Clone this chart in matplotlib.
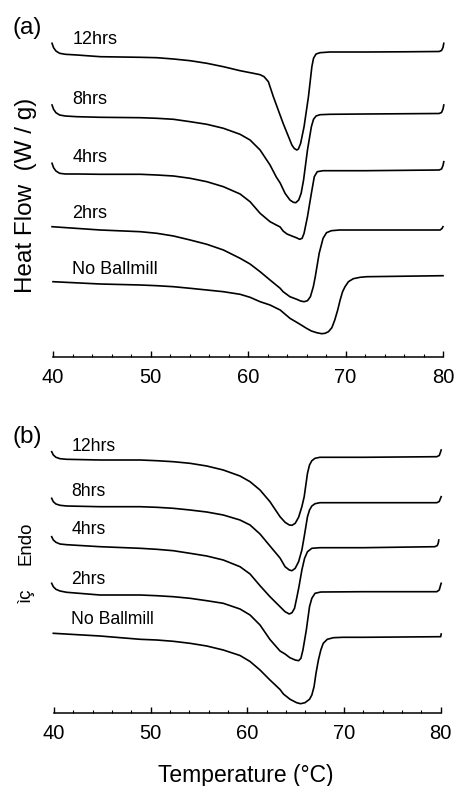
import matplotlib
matplotlib.use("Agg")
from matplotlib import pyplot as plt
from matplotlib.ticker import MultipleLocator

plt.rcParams['font.family'] = ['Liberation Sans', 'DejaVu Sans']

# DSC traces (Temperature in C, heat flow in arbitrary stacked units)
# (a) panel
a_12_t = [39.9, 40.06, 40.3, 40.68, 41.26, 42.46, 44.85, 48.96, 50.65, 52.36, 54.07, 55.78, 57.48, 59.19, 60.55,
          61.24, 61.65, 62.09, 62.6, 63.6, 64.5, 64.73, 65.0, 65.17, 65.4, 65.75, 66.2, 66.55, 66.72, 66.98,
          67.39, 68.4, 72.0, 76.0, 79.6, 79.85, 80.0, 80.08]
a_12_hf = [31.67, 31.23, 30.9, 30.67, 30.57, 30.5, 30.33, 30.27, 30.23, 30.1, 29.93, 29.67, 29.33, 28.93, 28.67,
           28.53, 28.33, 27.83, 26.33, 23.67, 21.5, 21.17, 21.0, 21.1, 21.67, 23.33, 26.33, 29.33, 30.17, 30.6,
           30.73, 30.8, 30.8, 30.82, 30.85, 30.95, 31.25, 31.67]

a_8_t = [39.9, 40.06, 40.3, 40.68, 41.26, 42.46, 44.85, 48.96, 50.65, 52.36, 54.07, 55.78, 57.48, 59.19, 60.21,
         61.24, 62.26, 62.9, 63.3, 63.8, 64.3, 64.65, 64.9, 65.2, 65.45, 65.7, 66.1, 66.5, 66.72, 66.98,
         67.39, 68.4, 72.0, 79.6, 79.85, 80.0, 80.08]
a_8_hf = [25.5, 25.07, 24.73, 24.5, 24.4, 24.33, 24.27, 24.23, 24.17, 24.07, 23.83, 23.57, 23.17, 22.57, 22.0,
          21.0, 19.5, 18.3, 17.7, 16.67, 16.0, 15.77, 15.73, 16.0, 16.67, 18.0, 21.0, 23.33, 24.07, 24.4,
          24.53, 24.57, 24.6, 24.65, 24.75, 25.1, 25.5]

a_4_t = [39.9, 40.06, 40.3, 40.68, 41.26, 42.46, 44.85, 48.96, 50.65, 52.36, 54.07, 55.78, 57.48, 59.19, 60.21,
         61.24, 62.26, 62.9, 63.3, 63.6, 64.0, 64.5, 64.95, 65.3, 65.55, 65.75, 66.1, 66.5, 66.8, 67.1,
         67.7, 72.0, 79.6, 79.85, 80.0, 80.08]
a_4_hf = [19.67, 19.23, 18.9, 18.67, 18.6, 18.6, 18.57, 18.57, 18.5, 18.4, 18.17, 17.83, 17.33, 16.6, 15.83,
          14.67, 13.83, 13.5, 13.3, 12.9, 12.6, 12.4, 12.23, 12.07, 12.17, 12.67, 14.33, 16.67, 18.33, 18.83,
          18.93, 18.93, 19.0, 19.1, 19.45, 19.83]

a_2_t = [39.9, 41.4, 44.85, 48.96, 50.65, 52.36, 54.07, 55.78, 57.48, 59.19, 60.21, 61.24, 62.26, 63.3, 63.6,
         64.3, 65.0, 65.4, 65.75, 66.1, 66.4, 66.7, 66.9, 67.3, 67.7, 68.05, 68.55, 69.4, 72.0, 79.7,
         79.9, 80.0]
a_2_hf = [13.33, 13.23, 13.0, 12.83, 12.67, 12.4, 12.0, 11.57, 11.0, 10.17, 9.6, 8.83, 8.0, 7.17, 6.83,
          6.33, 6.07, 5.9, 5.83, 5.93, 6.33, 7.33, 8.33, 10.67, 12.17, 12.73, 12.93, 13.0, 13.0, 13.0,
          13.15, 13.33]

a_0_t = [40.0, 44.85, 48.96, 50.65, 52.36, 54.07, 55.78, 57.48, 59.19, 60.21, 61.24, 62.26, 63.3, 64.3, 65.17,
         66.0, 66.5, 67.05, 67.56, 67.9, 68.25, 68.6, 68.9, 69.2, 69.45, 69.7, 69.95, 70.3, 70.8, 71.5,
         72.2, 80.0]
a_0_hf = [7.83, 7.6, 7.5, 7.43, 7.33, 7.17, 7.0, 6.83, 6.57, 6.27, 5.83, 5.5, 5.0, 4.17, 3.67,
          3.17, 2.9, 2.73, 2.63, 2.67, 2.83, 3.23, 4.0, 5.0, 6.0, 6.83, 7.33, 7.83, 8.13, 8.27,
          8.33, 8.43]

# (b) panel
b_12_t = [39.76, 39.93, 40.2, 40.62, 41.31, 44.76, 48.9, 50.62, 52.34, 54.07, 55.8, 57.51, 59.24, 60.28, 61.31,
          62.34, 63.38, 63.9, 64.34, 64.62, 64.95, 65.3, 65.64, 65.88, 66.22, 66.43, 66.67, 67.0, 67.5, 72.0,
          79.6, 79.85, 79.95, 80.05]
b_12_hf = [26.33, 26.0, 25.77, 25.63, 25.57, 25.5, 25.5, 25.43, 25.33, 25.17, 24.9, 24.5, 23.9, 23.33, 22.5,
           21.33, 19.83, 19.27, 19.0, 18.97, 19.17, 19.77, 20.83, 21.83, 24.17, 25.0, 25.43, 25.67, 25.77, 25.77,
           25.83, 25.95, 26.2, 26.5]

b_8_t = [39.76, 39.93, 40.2, 40.62, 41.31, 44.76, 48.9, 50.62, 52.34, 54.07, 55.8, 57.51, 59.24, 60.28, 61.31,
         62.34, 63.38, 63.9, 64.34, 64.62, 64.95, 65.3, 65.64, 65.88, 66.22, 66.43, 66.67, 67.0, 67.5, 72.0,
         79.6, 79.85, 79.95, 80.05]
b_8_hf = [21.67, 21.33, 21.1, 20.97, 20.9, 20.83, 20.83, 20.77, 20.67, 20.5, 20.3, 20.0, 19.5, 19.0, 18.1,
          16.9, 15.7, 14.83, 14.5, 14.43, 14.67, 15.33, 16.5, 17.83, 19.83, 20.5, 20.9, 21.13, 21.23, 21.23,
          21.23, 21.35, 21.6, 21.83]

b_4_t = [39.76, 39.93, 40.2, 40.62, 41.31, 44.76, 48.9, 50.62, 52.34, 54.07, 55.8, 57.51, 59.24, 60.28, 61.31,
         62.34, 63.38, 63.9, 64.34, 64.62, 64.88, 65.1, 65.34, 65.64, 65.92, 66.22, 66.67, 67.5, 72.0, 79.4,
         79.65, 79.75, 79.8]
b_4_hf = [17.83, 17.5, 17.27, 17.1, 17.03, 16.83, 16.67, 16.57, 16.43, 16.17, 15.9, 15.5, 14.83, 14.1, 12.93,
          11.83, 10.83, 10.33, 10.1, 10.23, 10.67, 11.67, 12.83, 14.5, 15.67, 16.33, 16.67, 16.73, 16.73, 16.83,
          16.95, 17.2, 17.5]

b_2_t = [39.76, 39.93, 40.2, 40.62, 41.31, 44.76, 48.9, 50.62, 52.34, 54.07, 55.8, 57.51, 59.24, 60.28, 61.31,
         62.34, 63.38, 63.9, 64.4, 64.95, 65.3, 65.54, 65.75, 66.1, 66.43, 66.67, 67.0, 67.6, 72.0, 79.6,
         79.85, 79.95, 80.05]
b_2_hf = [13.17, 12.83, 12.57, 12.4, 12.27, 12.0, 12.0, 11.93, 11.83, 11.67, 11.43, 11.17, 10.6, 10.0, 9.0,
          7.55, 6.4, 6.1, 5.73, 5.5, 5.43, 5.67, 6.5, 8.5, 10.83, 11.67, 12.17, 12.3, 12.33, 12.33,
          12.5, 12.85, 13.17]

b_0_t = [39.93, 44.76, 48.9, 50.62, 52.34, 54.07, 55.8, 57.51, 59.24, 60.28, 61.31, 62.34, 63.38, 63.73, 64.42,
         65.1, 65.5, 65.96, 66.43, 66.67, 66.9, 67.1, 67.35, 67.6, 67.85, 68.27, 68.9, 69.9, 72.0, 80.0,
         80.05]
b_0_hf = [8.17, 7.9, 7.57, 7.5, 7.37, 7.17, 6.9, 6.5, 5.95, 5.35, 4.5, 3.5, 2.55, 2.1, 1.57,
          1.23, 1.13, 1.23, 1.57, 2.0, 2.83, 4.17, 5.5, 6.5, 7.17, 7.57, 7.73, 7.77, 7.77, 7.83,
          8.1]

labels = ["12hrs", "8hrs", "4hrs", "2hrs", "No Ballmill"]
label_y_a = [32.0, 26.0, 20.3, 14.7, 9.1]
label_y_b = [26.9, 22.4, 18.5, 13.6, 9.6]

W, H = 454, 786
fig = plt.figure(figsize=(W / 100, H / 100), dpi=100)


def setup(ax, ylo, yhi):
    ax.set_xlim(40, 80)
    ax.set_ylim(ylo, yhi)
    for s in ['top', 'right', 'left']:
        ax.spines[s].set_visible(False)
    ax.spines['bottom'].set_linewidth(1.1)
    ax.set_yticks([])
    ax.xaxis.set_major_locator(MultipleLocator(10))
    ax.xaxis.set_minor_locator(MultipleLocator(2))
    ax.tick_params(axis='x', which='major', direction='in', length=4, width=1, pad=8, labelsize=14.5)
    ax.tick_params(axis='x', which='minor', direction='in', length=2, width=0.8)
    ax.patch.set_alpha(0)


# top panel
ax1 = fig.add_axes([53 / W, (H - 357) / H, 390 / W, (357 - 30) / H])
setup(ax1, 0.3, 33.0)
for t, hf in [(a_12_t, a_12_hf), (a_8_t, a_8_hf), (a_4_t, a_4_hf), (a_2_t, a_2_hf), (a_0_t, a_0_hf)]:
    ax1.plot(t, hf, color='black', lw=1.2, clip_on=False, solid_joinstyle='round')
for lab, y in zip(labels, label_y_a):
    ax1.text(42.0, y, lab, fontsize=13, ha='left', va='center')

# bottom panel
ax2 = fig.add_axes([54 / W, (H - 712.7) / H, 386.7 / W, (712.7 - 430) / H])
setup(ax2, 0.23, 28.5)
for t, hf in [(b_12_t, b_12_hf), (b_8_t, b_8_hf), (b_4_t, b_4_hf), (b_2_t, b_2_hf), (b_0_t, b_0_hf)]:
    ax2.plot(t, hf, color='black', lw=1.2, clip_on=False, solid_joinstyle='round')
for lab, y in zip(labels, label_y_b):
    ax2.text(41.8, y, lab, fontsize=12.7, ha='left', va='center')

fig.text(13 / W, (H - 34) / H, "(a)", fontsize=17.5, ha='left', va='baseline')
fig.text(13 / W, (H - 443) / H, "(b)", fontsize=17.5, ha='left', va='baseline')
fig.text(26 / W, (H - 195.5) / H, "Heat Flow  (W / g)", fontsize=17.5, rotation=90, ha='center', va='center')
fig.text(26 / W, (H - 543) / H, "Endo", fontsize=13.4, rotation=90, ha='center', va='center')
fig.text(26 / W, (H - 595.5) / H, "ìç", fontsize=13.4, rotation=90, ha='center', va='center')
fig.text(246 / W, (H - 782) / H, "Temperature (°C)", fontsize=16.5, ha='center', va='baseline')

fig.savefig("out.png", dpi=100)
